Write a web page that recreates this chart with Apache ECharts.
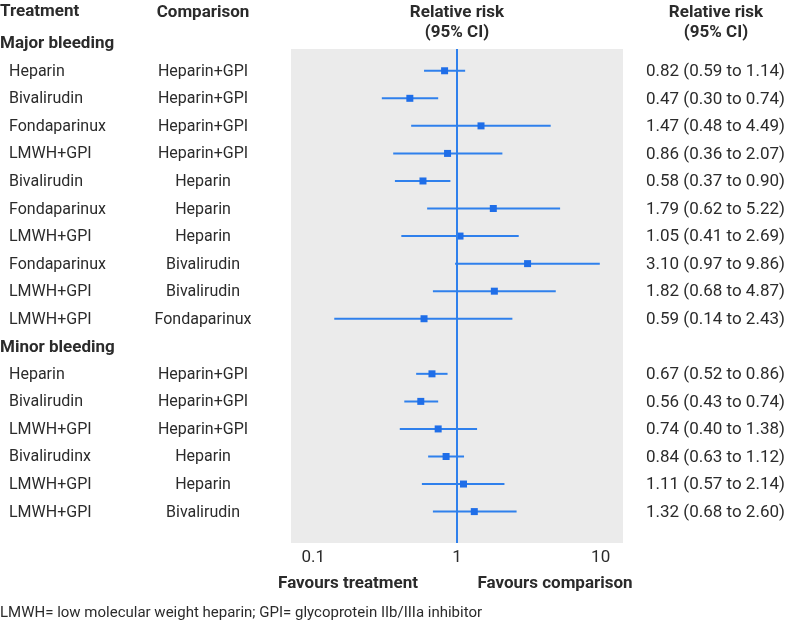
<!DOCTYPE html>
<html>
<head>
<meta charset="utf-8">
<script src="https://cdn.jsdelivr.net/npm/echarts@6/dist/echarts.min.js"></script>
<style>
  html, body { margin: 0; padding: 0; background: #fff; }
  #chart { width: 790px; height: 623px; }
</style>
</head>
<body>
<div id="chart"></div>
<script>
// groups of comparisons
const groupNames = ['Major bleeding', 'Minor bleeding']
const groupSizes = [10, 6]

const treatments = [
  'Heparin', 'Bivalirudin', 'Fondaparinux', 'LMWH+GPI', 'Bivalirudin',
  'Fondaparinux', 'LMWH+GPI', 'Fondaparinux', 'LMWH+GPI', 'LMWH+GPI',
  'Heparin', 'Bivalirudin', 'LMWH+GPI', 'Bivalirudinx', 'LMWH+GPI', 'LMWH+GPI'
]
const comparisons = [
  'Heparin+GPI', 'Heparin+GPI', 'Heparin+GPI', 'Heparin+GPI', 'Heparin',
  'Heparin', 'Heparin', 'Bivalirudin', 'Bivalirudin', 'Fondaparinux',
  'Heparin+GPI', 'Heparin+GPI', 'Heparin+GPI', 'Heparin', 'Heparin', 'Bivalirudin'
]
const rr = [0.82, 0.47, 1.47, 0.86, 0.58, 1.79, 1.05, 3.10, 1.82, 0.59,
            0.67, 0.56, 0.74, 0.84, 1.11, 1.32]
const lower = [0.59, 0.30, 0.48, 0.36, 0.37, 0.62, 0.41, 0.97, 0.68, 0.14,
               0.52, 0.43, 0.40, 0.63, 0.57, 0.68]
const upper = [1.14, 0.74, 4.49, 2.07, 0.90, 5.22, 2.69, 9.86, 4.87, 2.43,
               0.86, 0.74, 1.38, 1.12, 2.14, 2.60]
const tickValues = [0.1, 1, 10]

const fmt = v => v.toFixed(2)

// row positions: each group gets a heading row, then its comparisons
const rowPos = []
const headingPos = []
let pos = -1
groupSizes.forEach(n => {
  headingPos.push(pos)
  pos++
  for (let i = 0; i < n; i++) { rowPos.push(pos); pos++ }
})

const FONT = 'Roboto'
const TXT = '#2b2b2b'
const BLUE = '#2f80ec'

const chart = echarts.init(document.getElementById('chart'))

const option = {
  animation: false,
  grid: {
    left: 291, width: 332, top: 49, height: 494,
    show: true, backgroundColor: '#ebebeb', borderWidth: 0
  },
  xAxis: {
    type: 'log',
    logBase: 10,
    min: 0.07,
    max: 14.3,
    axisLine: { show: false },
    axisTick: { show: false },
    splitLine: { show: false },
    axisLabel: {
      margin: 6,
      fontFamily: FONT, fontSize: 17, color: TXT,
      showMinLabel: false, showMaxLabel: false,
      formatter: v => {
        const hit = tickValues.find(t => Math.abs(Math.log10(t) - Math.log10(v)) < 1e-6)
        return hit !== undefined ? String(hit) : ''
      }
    }
  },
  yAxis: {
    type: 'value',
    inverse: true,
    min: -0.79,
    max: 17.14,
    show: false
  },
  graphic: [
    { type: 'text', left: 0, top: 3, style: { text: 'Treatment', font: `bold 17px ${FONT}`, fill: TXT } },
    { type: 'text', x: 203, y: 13, style: { text: 'Comparison', font: `bold 17px ${FONT}`, fill: TXT, align: 'center', verticalAlign: 'middle' } },
    { type: 'text', x: 457, y: 13, style: { text: 'Relative risk', font: `bold 17px ${FONT}`, fill: TXT, align: 'center', verticalAlign: 'middle' } },
    { type: 'text', x: 457, y: 33, style: { text: '(95% CI)', font: `bold 17px ${FONT}`, fill: TXT, align: 'center', verticalAlign: 'middle' } },
    { type: 'text', x: 716, y: 13, style: { text: 'Relative risk', font: `bold 17px ${FONT}`, fill: TXT, align: 'center', verticalAlign: 'middle' } },
    { type: 'text', x: 716, y: 33, style: { text: '(95% CI)', font: `bold 17px ${FONT}`, fill: TXT, align: 'center', verticalAlign: 'middle' } },
    { type: 'text', x: 348, y: 584, style: { text: 'Favours treatment', font: `bold 17px ${FONT}`, fill: TXT, align: 'center', verticalAlign: 'middle' } },
    { type: 'text', x: 555, y: 584, style: { text: 'Favours comparison', font: `bold 17px ${FONT}`, fill: TXT, align: 'center', verticalAlign: 'middle' } },
    { type: 'text', x: 0, y: 613, style: { text: 'LMWH= low molecular weight heparin; GPI= glycoprotein IIb/IIIa inhibitor', font: `15px ${FONT}`, fill: TXT, verticalAlign: 'middle' } }
  ],
  series: [
    // group headings
    {
      type: 'custom',
      silent: true,
      clip: false,
      data: headingPos.map((p, i) => [1, p, i]),
      renderItem: (params, api) => {
        const y = api.coord([1, api.value(1)])[1]
        return {
          type: 'text',
          style: {
            x: 0, y: y + 1, text: groupNames[api.value(2)],
            font: `bold 17px ${FONT}`, fill: TXT, verticalAlign: 'middle'
          }
        }
      }
    },
    // table text columns
    {
      type: 'custom',
      silent: true,
      clip: false,
      data: rowPos.map((p, i) => [1, p, i]),
      renderItem: (params, api) => {
        const i = api.value(2)
        const y = api.coord([1, api.value(1)])[1] + 1
        return {
          type: 'group',
          children: [
            { type: 'text', style: { x: 9, y, text: treatments[i], font: `16px ${FONT}`, fill: TXT, verticalAlign: 'middle' } },
            { type: 'text', style: { x: 203, y, text: comparisons[i], font: `16px ${FONT}`, fill: TXT, align: 'center', verticalAlign: 'middle' } },
            { type: 'text', style: { x: 646, y, text: `${fmt(rr[i])} (${fmt(lower[i])} to ${fmt(upper[i])})`, font: `17px ${FONT}`, fill: TXT, verticalAlign: 'middle' } }
          ]
        }
      }
    },
    // confidence intervals
    {
      type: 'custom',
      silent: true,
      data: rowPos.map((p, i) => [lower[i], upper[i], p]),
      renderItem: (params, api) => {
        const a = api.coord([api.value(0), api.value(2)])
        const b = api.coord([api.value(1), api.value(2)])
        return {
          type: 'line',
          shape: { x1: a[0], y1: a[1], x2: b[0], y2: b[1] },
          style: { stroke: BLUE, lineWidth: 2 }
        }
      },
      markLine: {
        silent: true,
        symbol: 'none',
        label: { show: false },
        lineStyle: { color: BLUE, width: 2, type: 'solid' },
        data: [{ xAxis: 1 }]
      }
    },
    // point estimates
    {
      type: 'scatter',
      silent: true,
      symbol: 'rect',
      symbolSize: 7,
      itemStyle: { color: '#1f6ee8', opacity: 1 },
      data: rowPos.map((p, i) => [rr[i], p])
    }
  ]
}

chart.setOption(option)
</script>
</body>
</html>
